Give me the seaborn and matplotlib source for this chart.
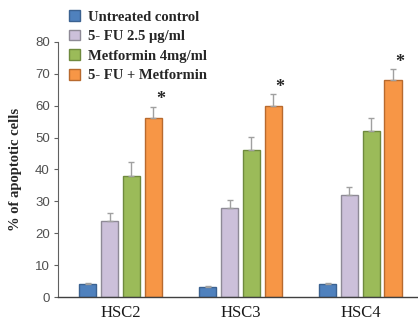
import numpy as np
import pandas as pd
import seaborn as sns
import matplotlib.pyplot as plt
from matplotlib.patches import Patch

cells = ["HSC2", "HSC3", "HSC4"]
treatments = ["Untreated control", "5- FU 2.5 \u03bcg/ml", "Metformin 4mg/ml", "5- FU + Metformin"]
values = {
    "Untreated control": [4.0, 3.0, 4.0],
    "5- FU 2.5 \u03bcg/ml": [24.0, 28.0, 32.0],
    "Metformin 4mg/ml": [38.0, 46.0, 52.0],
    "5- FU + Metformin": [56.0, 60.0, 68.0],
}
errors = {
    "Untreated control": [0.5, 0.4, 0.5],
    "5- FU 2.5 \u03bcg/ml": [2.3, 2.4, 2.4],
    "Metformin 4mg/ml": [4.2, 4.2, 4.2],
    "5- FU + Metformin": [3.7, 3.6, 3.4],
}
colors = ["#4F81BD", "#CCC0DA", "#9BBB59", "#F79646"]
edges = ["#3B6291", "#8E8A96", "#6F8A3E", "#B86A2E"]

rows = []
for t in treatments:
    for c, v in zip(cells, values[t]):
        rows.append({"cell": c, "treatment": t, "value": v})
df = pd.DataFrame(rows)

sns.set_style("white")
fig = plt.figure(figsize=(4.18, 3.25), dpi=100)
ax = fig.add_axes([0.139, 0.086, 0.861, 0.785])

sns.barplot(data=df, x="cell", y="value", hue="treatment", order=cells,
            hue_order=treatments, palette=colors, saturation=1, width=0.73, gap=0.2,
            errorbar=None, ax=ax, legend=False, linewidth=1.0)

for i, t in enumerate(treatments):
    cont = ax.containers[i]
    for j, p in enumerate(cont.patches):
        p.set_edgecolor(edges[i])
        p.set_linewidth(1.0)
        xc = p.get_x() + p.get_width() / 2
        h = p.get_height()
        ax.errorbar([xc], [h], yerr=[[0], [errors[t][j]]], fmt="none",
                    ecolor="#A0A0A0", elinewidth=1.0, capsize=2, capthick=1.0)
        if t == "5- FU + Metformin":
            ax.annotate("*", (xc, h + errors[t][j]), xytext=(5, -1),
                        textcoords="offset points", ha="center", va="bottom",
                        fontsize=13, fontweight="bold", family="Liberation Serif")

ax.set_ylim(0, 80)
ax.set_xlim(-0.52, 2.48)
ax.set_yticks(range(0, 81, 10))
ax.tick_params(axis="y", labelsize=9.5, labelcolor="#505050", length=3,
               color="#606060", direction="out", left=True, pad=3)
for lab in ax.get_yticklabels():
    lab.set_family("Liberation Sans")
ax.tick_params(axis="x", labelsize=12, length=0, pad=6, labelcolor="#1a1a1a")
for lab in ax.get_xticklabels():
    lab.set_family("Liberation Serif")
ax.set_xlabel("")
ax.set_ylabel("% of apoptotic cells", family="Liberation Serif", fontweight="bold",
              fontsize=10.5, labelpad=9)
sns.despine(ax=ax)
ax.spines["left"].set_color("#606060")
ax.spines["bottom"].set_color("#404040")
ax.spines["left"].set_linewidth(0.8)
ax.spines["bottom"].set_linewidth(1.0)

handles = [Patch(facecolor=colors[i], edgecolor=edges[i], label=treatments[i])
           for i in range(4)]
fig.legend(handles=handles, loc="upper left", bbox_to_anchor=(0.14, 1.0),
           frameon=False, prop={"family": "Liberation Serif", "weight": "bold", "size": 10.5},
           handlelength=0.75, handleheight=0.75, handletextpad=0.6, labelspacing=0.42,
           borderaxespad=0.3)

fig.savefig("out.png", dpi=100)
